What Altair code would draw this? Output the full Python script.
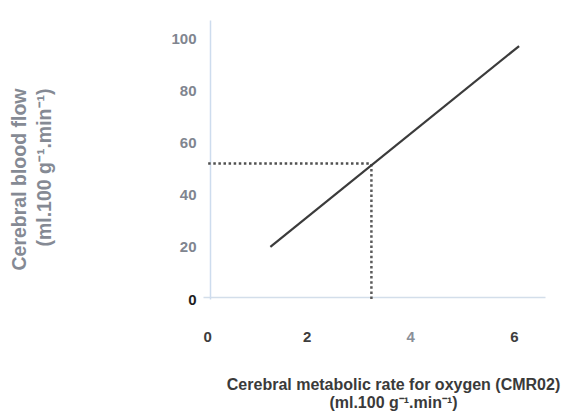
import altair as alt
import pandas as pd

# Data
cmro2_line = [1.3, 6.1]
cbf_line = [20, 97]
normal_cmro2 = 3.25
normal_cbf = 52
dotted_start_x = 0.1

x_ticks = [0, 2, 4, 6]
y_ticks = [0, 20, 40, 60, 80, 100]

line_df = pd.DataFrame({"cmro2": cmro2_line, "cbf": cbf_line})
hdot_df = pd.DataFrame({"x": [dotted_start_x], "x2": [normal_cmro2], "y": [normal_cbf]})
vdot_df = pd.DataFrame({"x": [normal_cmro2], "y": [0], "y2": [normal_cbf]})

FONT = "Liberation Sans"

xscale = alt.Scale(domain=[0, 6.6], nice=False, zero=False)
yscale = alt.Scale(domain=[0, 107], nice=False, zero=False)

x_axis = alt.Axis(
    values=x_ticks, grid=False, ticks=False, offset=-2,
    domainColor="#d3deea", domainWidth=1.5,
    labelFont=FONT, labelFontSize=15, labelFontWeight="bold",
    labelColor={"condition": {"test": "datum.value === 4", "value": "#8a8f98"}, "value": "#3d3d3d"},
    labelPadding=32, labelBaseline="top",
    title=["Cerebral metabolic rate for oxygen (CMR02)", "(ml.100 g\u207b\u00b9.min\u207b\u00b9)"],
    titleFont=FONT, titleFontSize=16, titleFontWeight="bold", titleColor="#3a3a3a",
    titleLineHeight=18, titleAlign="center", titleBaseline="top",
    titleX=190, titleY=79,
)

y_axis = alt.Axis(
    values=y_ticks, grid=False, ticks=False, offset=-7,
    domainColor="#cddcee", domainWidth=1.5,
    labelFont=FONT, labelFontSize=15, labelFontWeight="bold",
    labelColor={"condition": {"test": "datum.value === 0", "value": "#1e1e1e"}, "value": "#80858f"},
    labelPadding=14,
    title=["Cerebral blood flow", "(ml.100 g\u207b\u00b9.min\u207b\u00b9)"],
    titleFont=FONT, titleFontSize=19.5, titleFontWeight="bold", titleColor="#858a94",
    titleLineHeight=25, titleAngle=270, titleAlign="right", titleBaseline="top",
    titleX=-200, titleY=68,
)

line = alt.Chart(line_df).mark_line(color="#3b3b3b", strokeWidth=2.2).encode(
    x=alt.X("cmro2:Q", scale=xscale, axis=x_axis),
    y=alt.Y("cbf:Q", scale=yscale, axis=y_axis),
)

hdot = alt.Chart(hdot_df).mark_rule(color="#505050", strokeWidth=2.5, strokeDash=[2.5, 2.6]).encode(
    x=alt.X("x:Q", scale=xscale), x2="x2:Q", y=alt.Y("y:Q", scale=yscale)
)

vdot = alt.Chart(vdot_df).mark_rule(color="#5a5a5a", strokeWidth=2.5, strokeDash=[2.5, 2.6]).encode(
    x=alt.X("x:Q", scale=xscale), y=alt.Y("y:Q", scale=yscale), y2="y2:Q"
)

chart = alt.layer(hdot, vdot, line).properties(
    width=342, height=279,
    autosize=alt.AutoSizeParams(type="none"),
    padding={"left": 195, "top": 12, "right": 30, "bottom": 113},
    background="white",
).configure_view(stroke=None)

chart.save("out.html", embed_options={"renderer": "svg", "actions": False})
